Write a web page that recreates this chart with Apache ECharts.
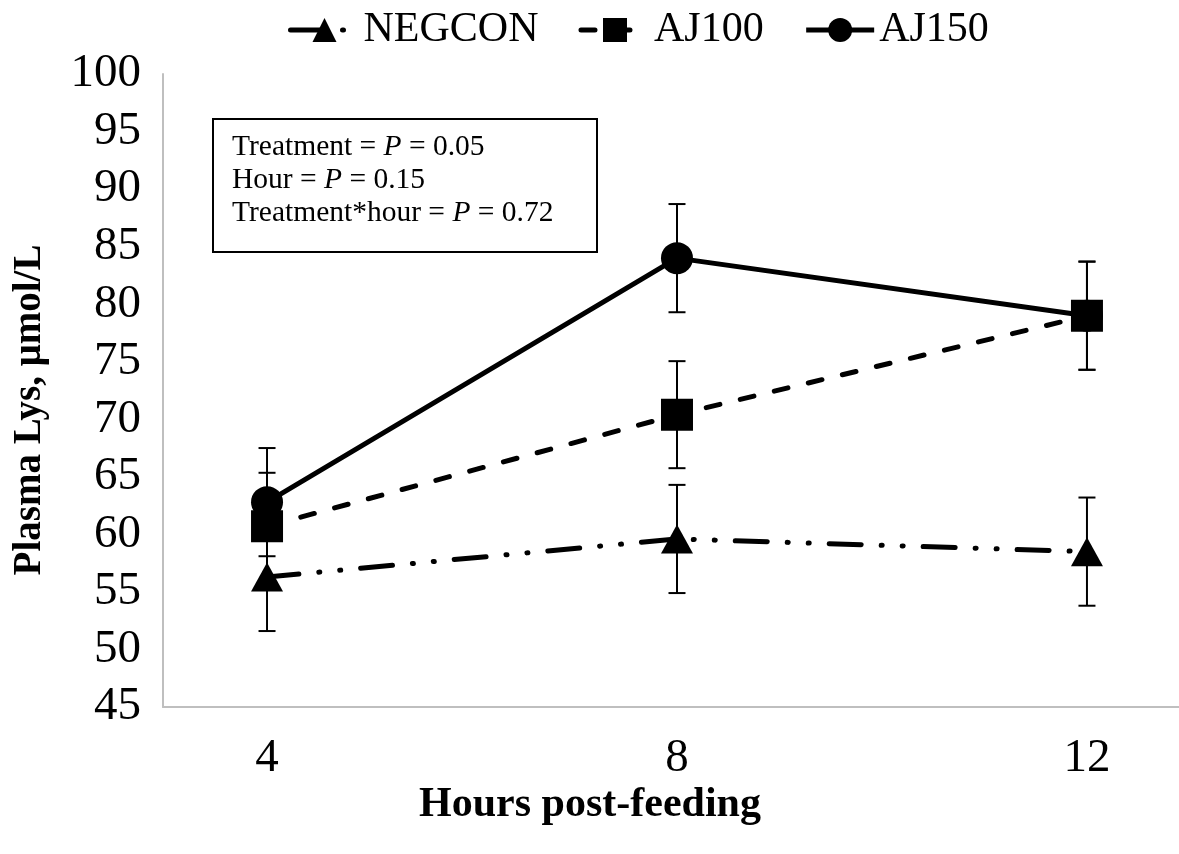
<!DOCTYPE html>
<html><head><meta charset="utf-8">
<script src="https://cdn.jsdelivr.net/npm/echarts@6/dist/echarts.min.js"></script>
<style>html,body{margin:0;padding:0;background:#fff}#c{width:1179px;height:854px}</style>
</head><body><div id="c"></div>
<script>
// ---- data ----
const hours = [4, 8, 12];
const hourLabels = [4, 8, 12];
const negcon = [56.3, 59.6, 58.5];
const aj100 = [60.7, 70.4, 79.0];
const aj150 = [62.8, 84.0, 79.0];
const negconErr = [4.7, 4.7, 4.7];
const aj100Err = [4.65, 4.65, 4.7];
const aj150Err = [4.7, 4.7, 4.7];
const yMin = 45, yMax = 100, yStep = 5;
const statLines = [
  ['Treatment = ', 'P', ' = 0.05'],
  ['Hour = ', 'P', ' = 0.15'],
  ['Treatment*hour = ', 'P', ' = 0.72']
];

const FONT = '"Liberation Serif", "Times New Roman", serif';
const chart = echarts.init(document.getElementById('c'), null, {renderer: 'canvas'});

function pts(vals) { return hours.map((h, i) => [h, vals[i]]); }
function errSeries(id, vals, errs, z) {
  return {
    type: 'custom', name: id, z: z, silent: true,
    data: hours.map((h, i) => [h, vals[i] - errs[i], vals[i] + errs[i]]),
    encode: {x: 0, y: [1, 2]},
    renderItem: function (params, api) {
      const x = api.value(0);
      const lo = api.coord([x, api.value(1)]);
      const hi = api.coord([x, api.value(2)]);
      const w = 8.5;
      const st = {stroke: '#000', lineWidth: 2};
      return {type: 'group', children: [
        {type: 'line', shape: {x1: lo[0], y1: lo[1], x2: hi[0], y2: hi[1]}, style: st},
        {type: 'line', shape: {x1: lo[0] - w, y1: lo[1], x2: lo[0] + w, y2: lo[1]}, style: st},
        {type: 'line', shape: {x1: hi[0] - w, y1: hi[1], x2: hi[0] + w, y2: hi[1]}, style: st}
      ]};
    }
  };
}

const statText = statLines.map(l => '{a|' + l[0] + '}{i|' + l[1] + '}{a|' + l[2] + '}').join('\n');

const option = {
  backgroundColor: '#fff',
  animation: false,
  grid: {left: 163, right: 0, top: 74, bottom: 147, containLabel: false},
  legend: {
    data: ['NEGCON', 'AJ100', 'AJ150'],
    left: 283, top: 4,
    itemWidth: 68, itemHeight: 30, itemGap: 40,
    lineStyle: {width: 5},
    textStyle: {fontFamily: FONT, fontSize: 42, color: '#000'}
  },
  xAxis: {
    type: 'value', min: 2.985, max: 12.898,
    axisLine: {show: true, lineStyle: {color: '#bfbfbf', width: 2}},
    axisTick: {show: false},
    splitLine: {show: false},
    axisLabel: {customValues: hourLabels, fontFamily: FONT, fontSize: 47, color: '#000', margin: 28}
  },
  yAxis: {
    type: 'value', min: yMin, max: yMax, interval: yStep,
    axisLine: {show: true, lineStyle: {color: '#bfbfbf', width: 2}},
    axisTick: {show: false},
    splitLine: {show: false},
    axisLabel: {fontFamily: FONT, fontSize: 47, color: '#000', margin: 22}
  },
  graphic: [
    {type: 'text', rotation: Math.PI / 2, x: 30, y: 410,
     style: {text: 'Plasma Lys, μmol/L', font: 'bold 39px ' + FONT, fill: '#000', align: 'center', verticalAlign: 'middle'}},
    {type: 'text', x: 590, y: 805,
     style: {text: 'Hours post-feeding', font: 'bold 42px ' + FONT, fill: '#000', align: 'center', verticalAlign: 'middle'}},
    {type: 'rect', shape: {x: 213, y: 119, width: 384, height: 133},
     style: {fill: '#fff', stroke: '#000', lineWidth: 2}, z: 10},
    {type: 'text', x: 232, y: 131, z: 11,
     style: {text: statText, fill: '#000', lineHeight: 33,
       rich: {a: {fontFamily: FONT, fontSize: 29.5, lineHeight: 33, fill: '#000'},
              i: {fontFamily: FONT, fontSize: 29.5, fontStyle: 'italic', lineHeight: 33, fill: '#000'}}}}
  ],
  series: [
    errSeries('errAJ150', aj150, aj150Err, 1),
    errSeries('errAJ100', aj100, aj100Err, 1),
    errSeries('errNEG', negcon, negconErr, 1),
    {name: 'AJ150', type: 'line', data: pts(aj150), z: 2,
     symbol: 'circle', symbolSize: 32, itemStyle: {color: '#000'},
     lineStyle: {color: '#000', width: 5, type: 'solid'}},
    {name: 'AJ100', type: 'line', data: pts(aj100), z: 3,
     symbol: 'rect', symbolSize: 32, itemStyle: {color: '#000'},
     lineStyle: {color: '#000', width: 5, type: [14, 21], cap: 'round'}},
    {name: 'NEGCON', type: 'line', data: pts(negcon), z: 4,
     symbol: 'triangle', symbolSize: [32, 29], itemStyle: {color: '#000'},
     lineStyle: {color: '#000', width: 5, type: [32, 20, 1, 20, 1, 20], cap: 'round'}}
  ]
};
chart.setOption(option);
</script></body></html>
